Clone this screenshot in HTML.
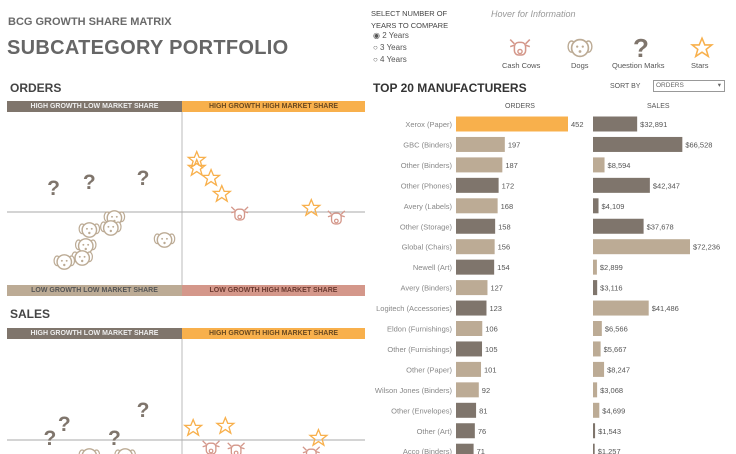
<!DOCTYPE html>
<html><head><meta charset="utf-8">
<style>
body{margin:0;width:736px;height:454px;overflow:hidden;background:#fff;font-family:"Liberation Sans",sans-serif;position:relative;color:#555}
.a{position:absolute;white-space:nowrap}
.band{position:absolute;height:11px;font-size:7px;font-weight:bold;text-align:center;line-height:11px}
</style></head><body>
<div class="a" style="left:8px;top:16px;font-size:11px;font-weight:bold;color:#6a6a6a">BCG GROWTH SHARE MATRIX</div>
<div class="a" style="left:7px;top:37px;font-size:20px;font-weight:bold;color:#666;letter-spacing:0.3px">SUBCATEGORY PORTFOLIO</div>
<div class="a" style="left:10px;top:81px;font-size:12px;font-weight:bold;color:#444">ORDERS</div>
<div class="a" style="left:10px;top:307px;font-size:12px;font-weight:bold;color:#444">SALES</div>
<div class="a" style="left:371px;top:8px;font-size:7.5px;line-height:12px;color:#444">SELECT NUMBER OF<br>YEARS TO COMPARE</div>
<div class="a" style="left:373px;top:31px;font-size:8px;color:#555">◉ 2 Years</div>
<div class="a" style="left:373px;top:43px;font-size:8px;color:#555">○ 3 Years</div>
<div class="a" style="left:373px;top:55px;font-size:8px;color:#555">○ 4 Years</div>
<div class="a" style="left:491px;top:9px;font-size:9px;font-style:italic;color:#999">Hover for Information</div>
<div class="a" style="left:502px;top:61px;font-size:7.5px;color:#555">Cash Cows</div>
<div class="a" style="left:571px;top:61px;font-size:7.5px;color:#555">Dogs</div>
<div class="a" style="left:612px;top:61px;font-size:7.5px;color:#555">Question Marks</div>
<div class="a" style="left:691px;top:61px;font-size:7.5px;color:#555">Stars</div>
<div class="a" style="left:373px;top:81px;font-size:12px;font-weight:bold;color:#333">TOP 20 MANUFACTURERS</div>
<div class="a" style="left:610px;top:83px;font-size:7px;color:#555">SORT BY</div>
<div class="a" style="left:653px;top:80px;width:68px;height:10px;border:1px solid #999;font-size:6.5px;line-height:10px;color:#666;padding-left:2px;box-sizing:content-box">ORDERS<span style="position:absolute;right:3px">▾</span></div>
<div class="a" style="left:505px;top:103px;font-size:7px;color:#555">ORDERS</div>
<div class="a" style="left:647px;top:103px;font-size:7px;color:#555">SALES</div>

<div class="band" style="left:7px;top:101px;width:175px;background:#7f756c;color:#eee">HIGH GROWTH LOW MARKET SHARE</div>
<div class="band" style="left:182px;top:101px;width:183px;background:#f8b04c;color:#6b4a20">HIGH GROWTH HIGH MARKET SHARE</div>
<div class="band" style="left:7px;top:285px;width:175px;background:#bcab95;color:#555">LOW GROWTH LOW MARKET SHARE</div>
<div class="band" style="left:182px;top:285px;width:183px;background:#d4978a;color:#6b3a30">LOW GROWTH HIGH MARKET SHARE</div>
<div class="band" style="left:7px;top:328px;width:175px;background:#7f756c;color:#eee">HIGH GROWTH LOW MARKET SHARE</div>
<div class="band" style="left:182px;top:328px;width:183px;background:#f8b04c;color:#6b4a20">HIGH GROWTH HIGH MARKET SHARE</div>

<svg id="svg" width="736" height="454" style="position:absolute;left:0;top:0">
<defs>
<g id="dog"><ellipse cx="-6" cy="-1" rx="2.5" ry="4" fill="#fff" stroke="#bcab95"/><ellipse cx="6" cy="-1" rx="2.5" ry="4" fill="#fff" stroke="#bcab95"/><circle cx="0" cy="0" r="6" fill="#fff" stroke="#bcab95" stroke-width="1.2"/><circle cx="-2" cy="-1" r="0.8" fill="#bcab95"/><circle cx="2" cy="-1" r="0.8" fill="#bcab95"/><circle cx="0" cy="2.5" r="1" fill="#bcab95"/></g>
<g id="cow"><rect x="-4" y="-4" width="8" height="9" rx="3" fill="#fff" stroke="#d4978a" stroke-width="1.1"/><path d="M-4 -3 L-7 -6 M4 -3 L7 -6 M-4 -2 L-7 -1 M4 -2 L7 -1" stroke="#d4978a" stroke-width="1.1"/><circle cx="0" cy="2.5" r="1.5" fill="none" stroke="#d4978a"/></g>
<g id="star"><path d="M0,-7 L2,-2.2 L7,-2.2 L3,1 L4.5,6 L0,3 L-4.5,6 L-3,1 L-7,-2.2 L-2,-2.2 Z" fill="none" stroke="#f8b04c" stroke-width="1.1"/></g>
</defs>
<line x1="182" y1="112" x2="182" y2="285" stroke="#bbb"/>
<line x1="7" y1="212" x2="365" y2="212" stroke="#aaa"/>
<line x1="182" y1="339" x2="182" y2="454" stroke="#bbb"/>
<line x1="7" y1="440" x2="365" y2="440" stroke="#aaa"/>
<g id="marks"></g>
</svg>
<script>
// Matrix data: [share (0-100), growth (relative)]
const ordersQuestion=[[13,12],[23,15],[38,17]];
const ordersDogs=[[30,-3],[29,-8],[23,-9],[22,-17],[21,-23],[16,-25],[44,-14]];
const ordersStars=[[53,26],[53,22],[57,17],[60,9],[85,2]];
const ordersCows=[[65,-1],[92,-3]];
const salesQuestion=[[12,1],[16,8],[30,1],[38,15]];
const salesStars=[[52,6],[61,7],[87,1]];
const salesCows=[[57,-4],[64,-5],[85,-7]];
const salesDogs=[[23,-8],[33,-8]];
// Bar data
const manufacturers=["Xerox (Paper)","GBC (Binders)","Other (Binders)","Other (Phones)","Avery (Labels)","Other (Storage)","Global (Chairs)","Newell (Art)","Avery (Binders)","Logitech (Accessories)","Eldon (Furnishings)","Other (Furnishings)","Other (Paper)","Wilson Jones (Binders)","Other (Envelopes)","Other (Art)","Acco (Binders)"];
const orders=[452,197,187,172,168,158,156,154,127,123,106,105,101,92,81,76,71];
const sales=[32891,66528,8594,42347,4109,37678,72236,2899,3116,41486,6566,5667,8247,3068,4699,1543,1257];
const orderColor=["o","t","t","d","t","d","t","d","t","d","t","d","t","t","d","d","d"];
const salesColor=["d","d","t","d","d","d","t","t","d","t","t","t","t","t","t","d","d"];

const NS="http://www.w3.org/2000/svg";
const marks=document.getElementById('marks');
const C={o:"#f8b04c",t:"#bcab95",d:"#7f756c"};
const sx=v=>7+v*3.58;
const oy=g=>212-g*2;
const sy=g=>440-g*2;
function place(arr,kind,yf,name){
  arr.forEach(p=>{
    let x=sx(p[0]),y=yf(p[1]);
    let el;
    if(kind==="q"){el=document.createElementNS(NS,'text');el.setAttribute('x',x);el.setAttribute('y',y+7);el.setAttribute('text-anchor','middle');el.setAttribute('font-size','21');el.setAttribute('font-weight','bold');el.setAttribute('fill','#7f756c');el.setAttribute('font-family','Liberation Sans');el.textContent='?';}
    else{el=document.createElementNS(NS,'use');el.setAttribute('href','#'+kind);el.setAttribute('transform','translate('+x+','+y+') scale(1.2)');}
    
    
    marks.appendChild(el);
  });
}
place(ordersQuestion,"q",oy,"orders-question-mark");
place(ordersDogs,"dog",oy,"orders-dog");
place(ordersStars,"star",oy,"orders-star");
place(ordersCows,"cow",oy,"orders-cash-cow");
place(salesQuestion,"q",sy,"sales-question-mark");
place(salesStars,"star",sy,"sales-star");
place(salesCows,"cow",sy,"sales-cash-cow");
place(salesDogs,"dog",sy,"sales-dog");
function legend(kind,x,y,name){
  let el;
  if(kind==="q"){el=document.createElementNS(NS,'text');el.setAttribute('x',x);el.setAttribute('y',y+9);el.setAttribute('text-anchor','middle');el.setAttribute('font-size','26');el.setAttribute('font-weight','bold');el.setAttribute('fill','#7f756c');el.textContent='?';}
  else{el=document.createElementNS(NS,'use');el.setAttribute('href','#'+kind);el.setAttribute('transform','translate('+x+','+y+') scale(1.4)');}
  
  
  marks.appendChild(el);
}
legend("cow",520,48,"legend-cow-icon");
legend("dog",580,48,"legend-dog-icon");
legend("q",641,48,"legend-question-icon");
legend("star",702,48,"legend-star-icon");
const ox=v=>456+v*112/452;
const sxb=v=>593+v*97/72236;
const rowY=i=>124+i*20.45;
manufacturers.forEach((m,i)=>{
  const y=rowY(i);
  let t=document.createElementNS(NS,'text');
  t.setAttribute('x',452);t.setAttribute('y',y+3);t.setAttribute('text-anchor','end');t.setAttribute('font-size','7.5');t.setAttribute('fill','#888');t.textContent=m;
  
  
  marks.appendChild(t);
  let r=document.createElementNS(NS,'rect');
  r.setAttribute('x',456);r.setAttribute('y',y-7.5);r.setAttribute('width',ox(orders[i])-456);r.setAttribute('height',15);r.setAttribute('fill',C[orderColor[i]]);
  
  
  marks.appendChild(r);
  let v=document.createElementNS(NS,'text');
  v.setAttribute('x',ox(orders[i])+3);v.setAttribute('y',y+3);v.setAttribute('font-size','7.5');v.setAttribute('fill','#555');v.textContent=orders[i];
  
  
  marks.appendChild(v);
  let r2=document.createElementNS(NS,'rect');
  r2.setAttribute('x',593);r2.setAttribute('y',y-7.5);r2.setAttribute('width',Math.max(1.5,sxb(sales[i])-593));r2.setAttribute('height',15);r2.setAttribute('fill',C[salesColor[i]]);
  
  
  marks.appendChild(r2);
  let v2=document.createElementNS(NS,'text');
  v2.setAttribute('x',Math.max(594.5,sxb(sales[i]))+3);v2.setAttribute('y',y+3);v2.setAttribute('font-size','7.5');v2.setAttribute('fill','#555');v2.textContent='$'+sales[i].toLocaleString('en-US');
  
  
  marks.appendChild(v2);
});
</script>
</body></html>
